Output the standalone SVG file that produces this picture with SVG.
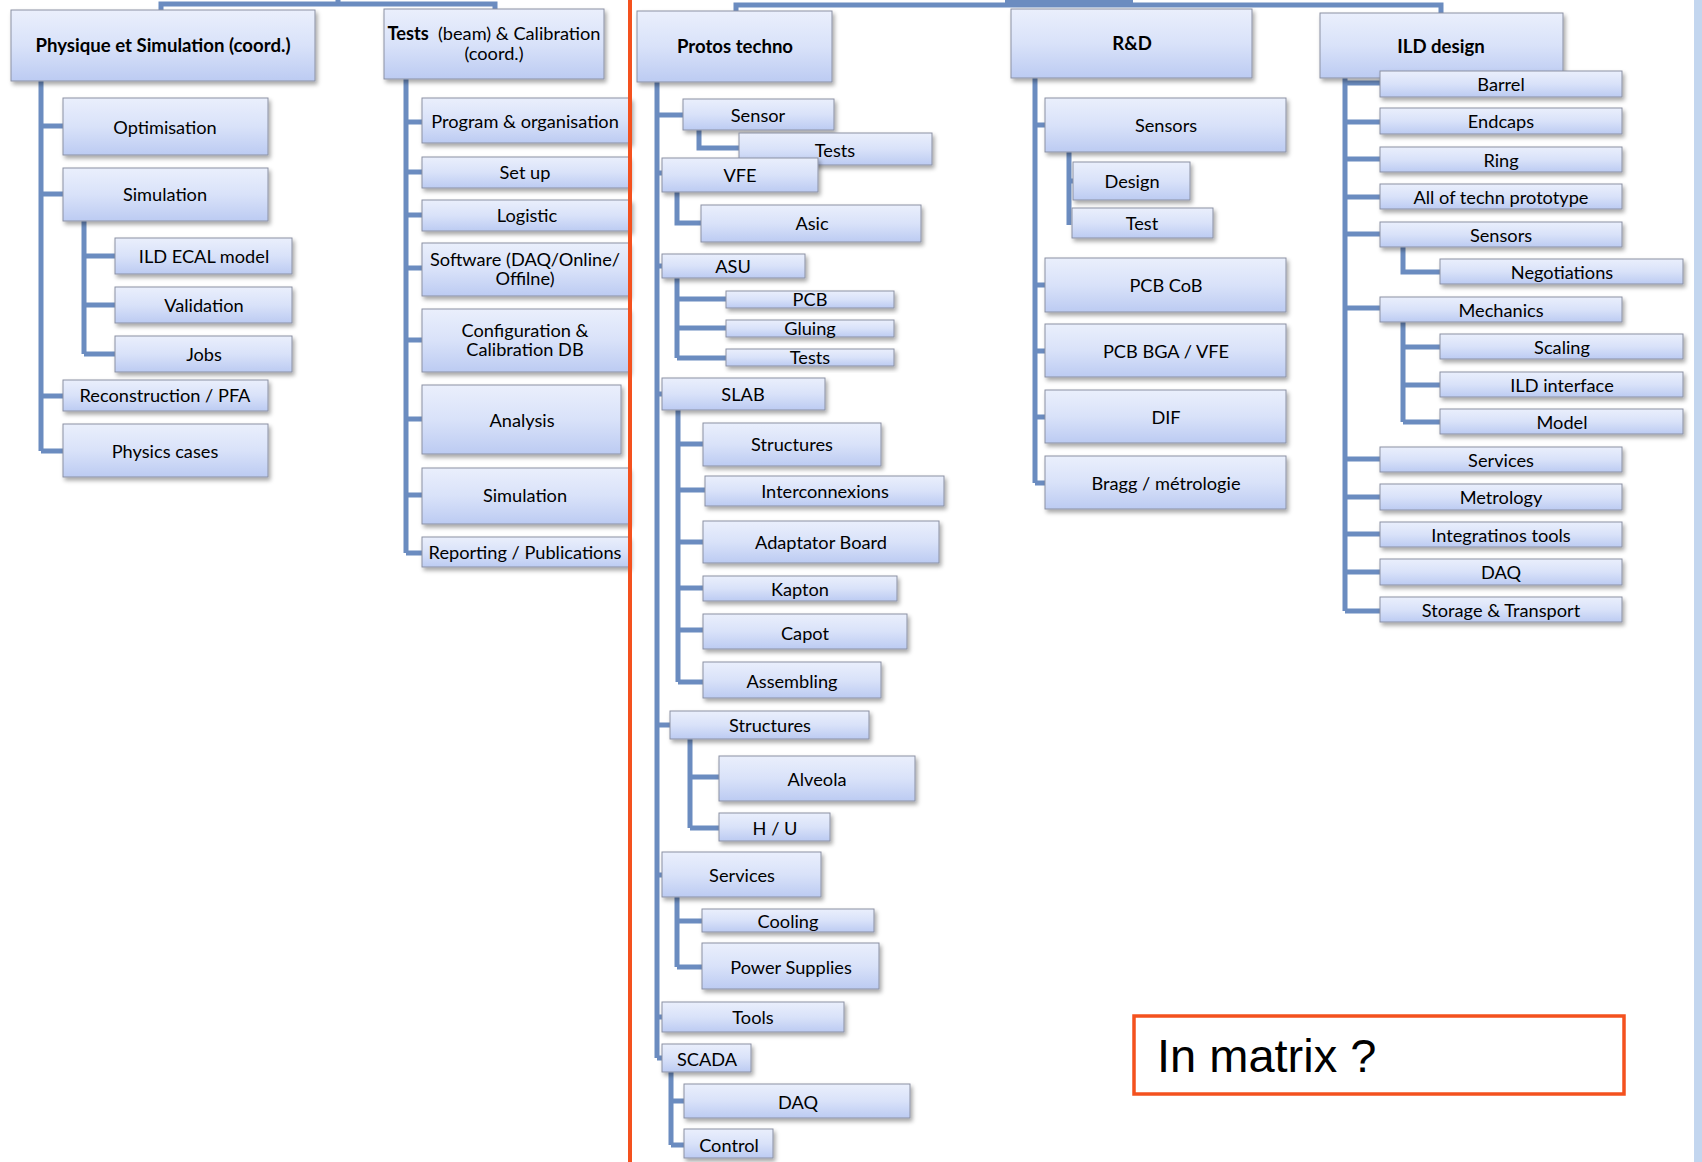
<svg xmlns="http://www.w3.org/2000/svg" width="1702" height="1162" viewBox="0 0 1702 1162">
<defs>
<linearGradient id="g" x1="0" y1="0" x2="0" y2="1">
<stop offset="0" stop-color="#eaeffc"/>
<stop offset="0.5" stop-color="#d9e2f9"/>
<stop offset="1" stop-color="#bccbf2"/>
</linearGradient>
<filter id="sh" x="-10%" y="-10%" width="130%" height="150%">
<feDropShadow dx="2" dy="3" stdDeviation="2" flood-color="#000" flood-opacity="0.35"/>
</filter>
<style>
.b{fill:url(#g);stroke:#8b91a3;stroke-width:1;filter:url(#sh)}
.t{font-family:Lato,"Open Sans","Liberation Sans",sans-serif;font-size:18.2px;fill:#000;text-anchor:middle}
.tb{font-family:Lato,"Open Sans","Liberation Sans",sans-serif;font-size:18.6px;font-weight:bold;fill:#000;text-anchor:middle}
.c{fill:none;stroke:#6b8cc0;stroke-width:5}
</style>
</defs>
<rect width="1702" height="1162" fill="#fff"/>
<rect x="1694" y="0" width="8" height="1162" fill="#c3d6ef"/>
<g id="connectors">
<path class="c" d="M161,10 V4 H495 V9 M338,4 V0 M736,11 V5 H1441 V13"/>
<rect x="1005" y="0" width="128" height="7" fill="#6b8cc0"/>
<path class="c" d="M41,81 V451 M41,126 H63 M41,194 H63 M41,396 H63 M41,451 H63"/>
<path class="c" d="M84,221 V354 M84,256 H115 M84,305 H115 M84,354 H115"/>
<path class="c" d="M406,79 V553 M406,122 H422 M406,172 H422 M406,215 H422 M406,268 H422 M406,340 H422 M406,419 H422 M406,495 H422 M406,553 H422"/>
<path class="c" d="M657,82 V1058 M657,115 H683 M657,173 H662 M657,266 H662 M657,394 H662 M657,725 H670 M657,875 H662 M657,1017 H662 M657,1058 H662"/>
<path class="c" d="M699,130 V148 H739 M677,192 V223 H701"/>
<path class="c" d="M677,278 V358 M677,299 H726 M677,328 H726 M677,358 H726"/>
<path class="c" d="M678,410 V682 M678,444 H703 M678,490 H705 M678,542 H703 M678,588 H703 M678,630 H703 M678,682 H703"/>
<path class="c" d="M690,739 V828 M690,777 H719 M690,828 H719"/>
<path class="c" d="M677,897 V967 M677,921 H702 M677,967 H702"/>
<path class="c" d="M671,1072 V1145 M671,1101 H684 M671,1145 H684"/>
<path class="c" d="M1035,78 V483 M1035,125 H1045 M1035,285 H1045 M1035,351 H1045 M1035,417 H1045 M1035,483 H1045"/>
<path class="c" d="M1069,152 V225 M1069,181 H1073"/>
<path class="c" d="M1345,78 V611 M1345,83 H1380 M1345,122 H1380 M1345,159 H1380 M1345,197 H1380 M1345,234 H1380 M1345,308 H1380 M1345,459 H1380 M1345,497 H1380 M1345,534 H1380 M1345,572 H1380 M1345,611 H1380"/>
<path class="c" d="M1403,247 V272 H1440 M1403,322 V422 M1403,347 H1440 M1403,385 H1440 M1403,422 H1440"/>
</g>
<g id="n_phys"><rect class="b" x="11" y="10" width="304" height="71"/><text class="tb" x="163" y="52">Physique et Simulation (coord.)</text></g>
<g id="n_optim"><rect class="b" x="63" y="98" width="205" height="57"/><text class="t" x="165" y="134">Optimisation</text></g>
<g id="n_simu"><rect class="b" x="63" y="168" width="205" height="53"/><text class="t" x="165" y="201">Simulation</text></g>
<g id="n_ildecal"><rect class="b" x="115" y="238" width="177" height="36"/><text class="t" x="204" y="263">ILD ECAL model</text></g>
<g id="n_valid"><rect class="b" x="115" y="287" width="177" height="36"/><text class="t" x="204" y="312">Validation</text></g>
<g id="n_jobs"><rect class="b" x="115" y="336" width="177" height="36"/><text class="t" x="204" y="361">Jobs</text></g>
<g id="n_reco"><rect class="b" x="63" y="380" width="205" height="31"/><text class="t" x="165" y="402">Reconstruction / PFA</text></g>
<g id="n_physcases"><rect class="b" x="63" y="424" width="205" height="53"/><text class="t" x="165" y="458">Physics cases</text></g>

<g id="n_tests"><rect class="b" x="384" y="9" width="220" height="70"/><text class="t" x="494" y="40"><tspan font-weight="bold">Tests</tspan>&#160; (beam) &amp; Calibration</text><text class="t" x="494" y="60">(coord.)</text></g>
<g id="n_prog"><rect class="b" x="422" y="98" width="209" height="45"/><text class="t" x="525" y="128">Program &amp; organisation</text></g>
<g id="n_setup"><rect class="b" x="422" y="157" width="207" height="31"/><text class="t" x="525" y="179">Set up</text></g>
<g id="n_logistic"><rect class="b" x="422" y="200" width="209" height="31"/><text class="t" x="527" y="222">Logistic</text></g>
<g id="n_software"><rect class="b" x="422" y="243" width="207" height="53"/><text class="t" x="525" y="266">Software (DAQ/Online/</text><text class="t" x="525" y="285">Offilne)</text></g>
<g id="n_config"><rect class="b" x="422" y="309" width="207" height="63"/><text class="t" x="525" y="337">Configuration &amp;</text><text class="t" x="525" y="356">Calibration DB</text></g>
<g id="n_analysis"><rect class="b" x="422" y="385" width="199" height="69"/><text class="t" x="522" y="427">Analysis</text></g>
<g id="n_tsim"><rect class="b" x="422" y="468" width="207" height="56"/><text class="t" x="525" y="502">Simulation</text></g>
<g id="n_report"><rect class="b" x="422" y="537" width="207" height="30"/><text class="t" x="525" y="559">Reporting / Publications</text></g>

<g id="n_protos"><rect class="b" x="637" y="11" width="195" height="71"/><text class="tb" x="735" y="53">Protos techno</text></g>
<g id="n_sensor"><rect class="b" x="683" y="99" width="151" height="31"/><text class="t" x="758" y="122">Sensor</text></g>
<g id="n_sens_tests"><rect class="b" x="739" y="133" width="193" height="32"/><text class="t" x="835" y="157">Tests</text></g>
<g id="n_vfe"><rect class="b" x="662" y="158" width="156" height="34"/><text class="t" x="740" y="182">VFE</text></g>
<g id="n_asic"><rect class="b" x="701" y="205" width="220" height="37"/><text class="t" x="812" y="230">Asic</text></g>
<g id="n_asu"><rect class="b" x="662" y="254" width="143" height="24"/><text class="t" x="733" y="273">ASU</text></g>
<g id="n_pcb"><rect class="b" x="726" y="291" width="168" height="17"/><text class="t" x="810" y="306">PCB</text></g>
<g id="n_gluing"><rect class="b" x="726" y="320" width="168" height="17"/><text class="t" x="810" y="335">Gluing</text></g>
<g id="n_asu_tests"><rect class="b" x="726" y="349" width="168" height="17"/><text class="t" x="810" y="364">Tests</text></g>
<g id="n_slab"><rect class="b" x="662" y="378" width="163" height="32"/><text class="t" x="743" y="401">SLAB</text></g>
<g id="n_structs"><rect class="b" x="703" y="423" width="178" height="43"/><text class="t" x="792" y="451">Structures</text></g>
<g id="n_interco"><rect class="b" x="705" y="476" width="239" height="30"/><text class="t" x="825" y="498">Interconnexions</text></g>
<g id="n_adapt"><rect class="b" x="703" y="521" width="236" height="42"/><text class="t" x="821" y="549">Adaptator Board</text></g>
<g id="n_kapton"><rect class="b" x="703" y="576" width="194" height="25"/><text class="t" x="800" y="596">Kapton</text></g>
<g id="n_capot"><rect class="b" x="703" y="614" width="204" height="35"/><text class="t" x="805" y="640">Capot</text></g>
<g id="n_assembling"><rect class="b" x="703" y="662" width="178" height="36"/><text class="t" x="792" y="688">Assembling</text></g>
<g id="n_structures2"><rect class="b" x="670" y="711" width="199" height="28"/><text class="t" x="770" y="732">Structures</text></g>
<g id="n_alveola"><rect class="b" x="719" y="756" width="196" height="45"/><text class="t" x="817" y="786">Alveola</text></g>
<g id="n_hu"><rect class="b" x="719" y="813" width="111" height="28"/><text class="t" x="775" y="835">H / U</text></g>
<g id="n_services"><rect class="b" x="662" y="852" width="159" height="45"/><text class="t" x="742" y="882">Services</text></g>
<g id="n_cooling"><rect class="b" x="702" y="909" width="172" height="23"/><text class="t" x="788" y="928">Cooling</text></g>
<g id="n_power"><rect class="b" x="702" y="943" width="177" height="46"/><text class="t" x="791" y="974">Power Supplies</text></g>
<g id="n_tools"><rect class="b" x="662" y="1002" width="182" height="30"/><text class="t" x="753" y="1024">Tools</text></g>
<g id="n_scada"><rect class="b" x="662" y="1044" width="89" height="28"/><text class="t" x="707" y="1066">SCADA</text></g>
<g id="n_daq"><rect class="b" x="684" y="1084" width="226" height="34"/><text class="t" x="798" y="1109">DAQ</text></g>
<g id="n_control"><rect class="b" x="684" y="1129" width="89" height="29"/><text class="t" x="729" y="1152">Control</text></g>

<g id="n_rd"><rect class="b" x="1011" y="9" width="241" height="69"/><text class="tb" x="1132" y="50">R&amp;D</text></g>
<g id="n_rsensors"><rect class="b" x="1045" y="98" width="241" height="54"/><text class="t" x="1166" y="132">Sensors</text></g>
<g id="n_design"><rect class="b" x="1073" y="162" width="117" height="38"/><text class="t" x="1132" y="188">Design</text></g>
<g id="n_test"><rect class="b" x="1072" y="208" width="141" height="30"/><text class="t" x="1142" y="230">Test</text></g>
<g id="n_pcbcob"><rect class="b" x="1045" y="258" width="241" height="54"/><text class="t" x="1166" y="292">PCB CoB</text></g>
<g id="n_pcbbga"><rect class="b" x="1045" y="324" width="241" height="53"/><text class="t" x="1166" y="358">PCB BGA / VFE</text></g>
<g id="n_dif"><rect class="b" x="1045" y="390" width="241" height="53"/><text class="t" x="1166" y="424">DIF</text></g>
<g id="n_bragg"><rect class="b" x="1045" y="456" width="241" height="53"/><text class="t" x="1166" y="490">Bragg / métrologie</text></g>

<g id="n_ild"><rect class="b" x="1320" y="13" width="243" height="65"/><text class="tb" x="1441" y="53">ILD design</text></g>
<g id="n_barrel"><rect class="b" x="1380" y="71" width="242" height="26"/><text class="t" x="1501" y="91">Barrel</text></g>
<g id="n_endcaps"><rect class="b" x="1380" y="108" width="242" height="26"/><text class="t" x="1501" y="128">Endcaps</text></g>
<g id="n_ring"><rect class="b" x="1380" y="147" width="242" height="25"/><text class="t" x="1501" y="167">Ring</text></g>
<g id="n_allproto"><rect class="b" x="1380" y="184" width="242" height="25"/><text class="t" x="1501" y="204">All of techn prototype</text></g>
<g id="n_isensors"><rect class="b" x="1380" y="222" width="242" height="25"/><text class="t" x="1501" y="242">Sensors</text></g>
<g id="n_nego"><rect class="b" x="1440" y="259" width="243" height="25"/><text class="t" x="1562" y="279">Negotiations</text></g>
<g id="n_mech"><rect class="b" x="1380" y="297" width="242" height="25"/><text class="t" x="1501" y="317">Mechanics</text></g>
<g id="n_scaling"><rect class="b" x="1440" y="334" width="243" height="25"/><text class="t" x="1562" y="354">Scaling</text></g>
<g id="n_ildif"><rect class="b" x="1440" y="372" width="243" height="25"/><text class="t" x="1562" y="392">ILD interface</text></g>
<g id="n_model"><rect class="b" x="1440" y="409" width="243" height="25"/><text class="t" x="1562" y="429">Model</text></g>
<g id="n_iservices"><rect class="b" x="1380" y="447" width="242" height="25"/><text class="t" x="1501" y="467">Services</text></g>
<g id="n_metro"><rect class="b" x="1380" y="484" width="242" height="26"/><text class="t" x="1501" y="504">Metrology</text></g>
<g id="n_integ"><rect class="b" x="1380" y="522" width="242" height="25"/><text class="t" x="1501" y="542">Integratinos tools</text></g>
<g id="n_idaq"><rect class="b" x="1380" y="559" width="242" height="26"/><text class="t" x="1501" y="579">DAQ</text></g>
<g id="n_storage"><rect class="b" x="1380" y="597" width="242" height="25"/><text class="t" x="1501" y="617">Storage &amp; Transport</text></g>

<line x1="630" y1="0" x2="630" y2="1162" stroke="#f4511e" stroke-width="4"/>
<g id="n_matrix"><rect x="1134" y="1016" width="490" height="78" fill="#fff" stroke="#f4511e" stroke-width="3.5"/><text x="1157" y="1072" font-family="'Liberation Sans',Arial,sans-serif" font-size="47" fill="#000">In matrix ?</text></g>
</svg>
